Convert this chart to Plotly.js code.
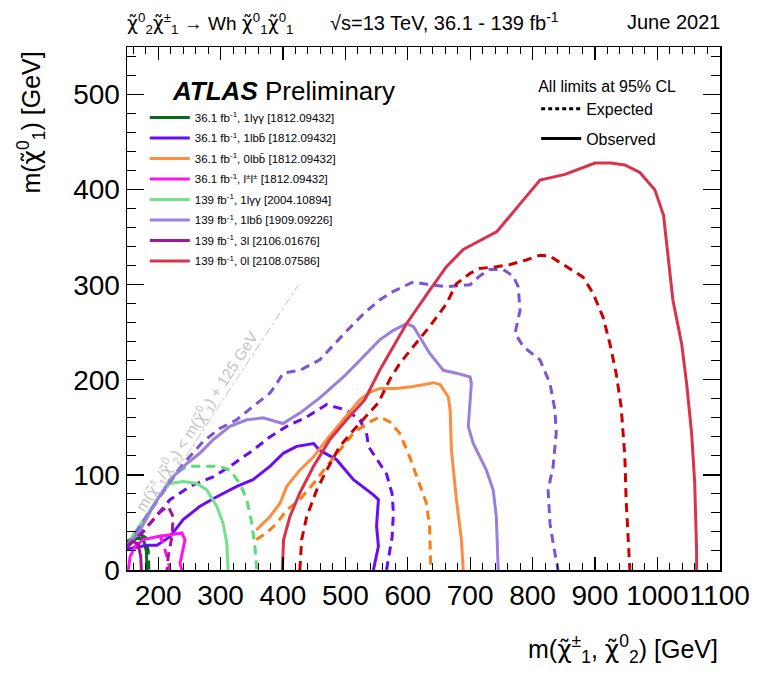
<!DOCTYPE html>
<html>
<head>
<meta charset="utf-8">
<script src="https://cdn.plot.ly/plotly-3.0.1.min.js"></script>
<style>html,body{margin:0;padding:0;background:#fff;}#plot{width:767px;height:673px;}</style>
</head>
<body>
<div id="plot"></div>
<script>
// ---- Data (GeV) ----
// 139 fb-1, 0l [2108.07586]
const obs0lX = [399,401,411,427,449,475,502,531,555,598,635,662,689,715,743,780,812,852,880,900,925,948,972,996,1010,1016,1025,1039,1047,1055,1060,1063,1063];
const obs0lY = [0,32,56,81,109,137,158,179,210,259,294,319,337,346,356,385,410,416,423,428,428,426,418,400,373,336,284,238,196,144,91,20,0];
const exp0lX = [427,430,438,454,470,491,513,534,553,571,587,609,635,662,678,700,715,742,763,790,812,828,854,881,897,913,924,934,942,948,950,956];
const exp0lY = [0,32,56,84,105,130,147,162,176,200,217,235,256,280,301,312,317,319,321,326,331,330,319,308,291,266,238,207,172,119,74,0];
// 139 fb-1, 1lbb [1909.09226]
const obs1lbb139X = [150,171,192,219,246,267,288,315,342,368,400,427,459,500,530,555,577,598,609,619,635,657,678,700,702,697,705,726,737,742,745];
const obs1lbb139Y = [25,42,67,95,112,123,137,151,158,160,154,165,181,205,225,242,252,259,256,245,228,210,207,203,196,151,133,105,84,56,0];
const exp1lbb139X = [150,175,200,224,246,272,299,326,352,379,390,400,427,459,500,530,555,577,609,635,662,700,715,731,753,769,777,780,772,785,812,828,836,838,833,825,828,833,841];
const exp1lbb139Y = [25,50,75,98,116,135,149,158,172,186,196,207,210,221,250,270,284,293,303,300,298,300,309,316,316,309,298,273,249,235,221,196,168,144,109,84,49,28,0];
// 36.1 fb-1, 1lbb [1812.09432]
const obs1lbb36X = [150,171,182,198,219,240,267,294,326,352,379,401,422,449,459,486,513,545,553,550,553,545];
const obs1lbb36Y = [22,25,26,26,35,53,67,77,88,95,109,123,130,133,126,116,95,79,74,46,25,0];
const exp1lbb36X = [150,187,219,251,288,315,352,379,406,438,470,502,523,534,537,566,575,577,575,566];
const exp1lbb36Y = [24,49,74,88,98,109,126,140,151,161,174,168,158,144,130,101,80,60,35,0];
// 36.1 fb-1, 0lbb [1812.09432]
const obs0lbbX = [357,379,395,406,427,449,470,491,513,523,540,555,582,609,641,652,665,668,670,678,686,689];
const obs0lbbY = [42,56,70,88,105,119,137,154,172,179,187,191,191,193,197,195,182,168,126,74,32,0];
const exp0lbbX = [357,374,390,406,427,449,470,491,513,534,555,571,587,603,619,630,635,637];
const exp0lbbY = [32,39,49,63,74,91,109,126,144,154,161,156,144,119,91,70,46,0];
// 139 fb-1, 1lyy [2004.10894]
const obs1lyy139X = [150,160,182,203,219,240,262,278,294,304,310,312];
const obs1lyy139Y = [25,37,58,79,91,93,91,84,67,49,28,0];
const exp1lyy139X = [150,175,200,230,246,267,299,315,331,342,350,355,358];
const exp1lyy139Y = [25,50,75,102,109,109,109,105,91,74,49,25,0];
// 36.1 fb-1, 1lyy [1812.09432]
const obs1lyy36X = [150,165,176,181,182];
const obs1lyy36Y = [27,33,33,20,0];
const exp1lyy36X = [150,170,180,184,185];
const exp1lyy36Y = [30,38,34,20,0];
// 36.1 fb-1, l±l± [1812.09432]
const obsSSX = [152,155,163,176,198,219,238,243,240,235,238];
const obsSSY = [0,14,25,32,35,37,39,32,21,7,0];
const expSSX = [202,208,214,219];
const expSSY = [37,28,14,0];
// 139 fb-1, 3l [2106.01676]
const obs3lX = [150,160,168,172,173];
const obs3lY = [25,30,27,14,0];
const exp3lX = [150,176,192,203,216,224,222,216,214];
const exp3lY = [25,40,53,61,67,56,35,14,0];
// kinematic limit m(chi1) = m(chi2) - 125
const kinX = [150, 425];
const kinY = [25, 300];

const legendNames = [
  "36.1 fb<sup>-1</sup>, 1lγγ [1812.09432]",
  "36.1 fb<sup>-1</sup>, 1lbb̄ [1812.09432]",
  "36.1 fb<sup>-1</sup>, 0lbb̄ [1812.09432]",
  "36.1 fb<sup>-1</sup>, l<sup>±</sup>l<sup>±</sup> [1812.09432]",
  "139 fb<sup>-1</sup>, 1lγγ [2004.10894]",
  "139 fb<sup>-1</sup>, 1lbb̄ [1909.09226]",
  "139 fb<sup>-1</sup>, 3l [2106.01676]",
  "139 fb<sup>-1</sup>, 0l [2108.07586]"
];

const FONT = "Liberation Sans, Arial, Helvetica, sans-serif";
const DASH = "9px,6px";
const CHI = '<span style="font-family:DejaVu Sans">χ̃</span>';

const series = [
  {name: legendNames[0], ox: obs1lyy36X, oy: obs1lyy36Y, ex: exp1lyy36X, ey: exp1lyy36Y, c: "#0b6b1d", ce: "#0b6b1d"},
  {name: legendNames[1], ox: obs1lbb36X, oy: obs1lbb36Y, ex: exp1lbb36X, ey: exp1lbb36Y, c: "#6a0cf5", ce: "#6a0cf5"},
  {name: legendNames[2], ox: obs0lbbX, oy: obs0lbbY, ex: exp0lbbX, ey: exp0lbbY, c: "#ff8c3f", ce: "#ff7a10"},
  {name: legendNames[3], ox: obsSSX, oy: obsSSY, ex: expSSX, ey: expSSY, c: "#ff14f0", ce: "#ff14f0"},
  {name: legendNames[4], ox: obs1lyy139X, oy: obs1lyy139Y, ex: exp1lyy139X, ey: exp1lyy139Y, c: "#74e08a", ce: "#5cdc76"},
  {name: legendNames[5], ox: obs1lbb139X, oy: obs1lbb139Y, ex: exp1lbb139X, ey: exp1lbb139Y, c: "#9a80dc", ce: "#7a55d6"},
  {name: legendNames[6], ox: obs3lX, oy: obs3lY, ex: exp3lX, ey: exp3lY, c: "#a3169c", ce: "#a3169c"},
  {name: legendNames[7], ox: obs0lX, oy: obs0lY, ex: exp0lX, ey: exp0lY, c: "#d9334c", ce: "#cc0000"}
];

const traces = [];
traces.push({x: kinX, y: kinY, mode: "lines", line: {color: "#c4c4c4", width: 1, dash: "dashdot"}, showlegend: false, hoverinfo: "skip"});
series.forEach((s, i) => {
  traces.push({x: s.ex, y: s.ey, mode: "lines", line: {color: s.ce, width: 3, dash: DASH}, showlegend: false, name: s.name + " exp"});
  traces.push({x: s.ox, y: s.oy, mode: "lines", line: {color: s.c, width: 3}, name: s.name, legendgroup: "g" + i, legend: "legend"});
});
// style legend entries
traces.push({x: [null], y: [null], mode: "lines", line: {color: "black", width: 3, dash: "4px,3px"}, name: "Expected", legend: "legend2", legendgroup: "e"});
traces.push({x: [null], y: [null], mode: "lines", line: {color: "black", width: 3}, name: "Observed", legend: "legend2", legendgroup: "o"});

const axisCommon = {
  showline: true, linecolor: "black", linewidth: 1.5, mirror: "ticks",
  ticks: "inside", tickcolor: "black", tickwidth: 1.2,
  showgrid: false, zeroline: false, tickangle: 0,
  tickfont: {family: FONT, size: 28, color: "black"}
};

const layout = {
  width: 767, height: 673,
  margin: {l: 127, r: 47, t: 47, b: 103},
  paper_bgcolor: "white", plot_bgcolor: "white",
  font: {family: FONT, color: "black"},
  xaxis: Object.assign({}, axisCommon, {
    range: [150, 1100.5], dtick: 100, tick0: 0, ticklen: 13,
    minor: {dtick: 20, ticks: "inside", ticklen: 7, tickcolor: "black", tickwidth: 1}
  }),
  yaxis: Object.assign({}, axisCommon, {
    range: [0, 550], dtick: 100, tick0: 0, ticklen: 17,
    minor: {dtick: 20, ticks: "inside", ticklen: 9, tickcolor: "black", tickwidth: 1}
  }),
  legend: {
    x: 0.03, y: 0.893, xanchor: "left", yanchor: "top",
    bgcolor: "rgba(0,0,0,0)", borderwidth: 0,
    font: {family: FONT, size: 11.5, color: "black"},
    itemwidth: 40, traceorder: "grouped", tracegroupgap: 1.5
  },
  legend2: {
    x: 0.69, y: 0.954, xanchor: "left", yanchor: "top",
    bgcolor: "rgba(0,0,0,0)", borderwidth: 0,
    font: {family: FONT, size: 16, color: "black"},
    itemwidth: 40, traceorder: "grouped", tracegroupgap: 6,
    title: {text: "All limits at 95% CL", font: {family: FONT, size: 16, color: "black"}, side: "top"}
  },
  annotations: [
    {xref: "paper", yref: "paper", x: 0.0725, y: 0.916, xanchor: "left", yanchor: "middle", showarrow: false,
     text: "<b><i>ATLAS</i></b> Preliminary", font: {family: FONT, size: 26, color: "black"}},
    {xref: "paper", yref: "paper", x: -0.003, y: 1.045, xanchor: "left", yanchor: "middle", showarrow: false,
     text: CHI + "<sup>0</sup><sub>2</sub>" + CHI + "<sup>±</sup><sub>1</sub> → Wh " + CHI + "<sup>0</sup><sub>1</sub>" + CHI + "<sup>0</sup><sub>1</sub>",
     font: {family: FONT, size: 19, color: "black"}},
    {xref: "paper", yref: "paper", x: 0.535, y: 1.048, xanchor: "center", yanchor: "middle", showarrow: false,
     text: "√s=13 TeV, 36.1 - 139 fb<sup>-1</sup>", font: {family: FONT, size: 20, color: "black"}},
    {xref: "paper", yref: "paper", x: 1.004, y: 1.048, xanchor: "right", yanchor: "middle", showarrow: false,
     text: "June 2021", font: {family: FONT, size: 20, color: "black"}},
    {xref: "paper", yref: "paper", x: 1.0, y: -0.152, xanchor: "right", yanchor: "middle", showarrow: false,
     text: "m(" + CHI + "<sup>±</sup><sub>1</sub>, " + CHI + "<sup>0</sup><sub>2</sub>) [GeV]", font: {family: FONT, size: 25, color: "black"}},
    {xref: "paper", yref: "paper", x: -0.162, y: 0.995, xanchor: "center", yanchor: "top", showarrow: false, textangle: -90,
     text: "m(" + CHI + "<sup>0</sup><sub>1</sub>) [GeV]", font: {family: FONT, size: 25, color: "black"}},
    {xref: "x", yref: "y", x: 262, y: 157, xanchor: "center", yanchor: "middle", showarrow: false, textangle: -57,
     text: "m(" + CHI + "<sup>±</sup><sub>1</sub>/" + CHI + "<sup>0</sup><sub>2</sub>) < m(" + CHI + "<sup>0</sup><sub>1</sub>) + 125 GeV",
     font: {family: FONT, size: 15.5, color: "#c4c4c4"}}
  ]
};

Plotly.newPlot("plot", traces, layout, {displayModeBar: false, staticPlot: true});
</script>
</body>
</html>
